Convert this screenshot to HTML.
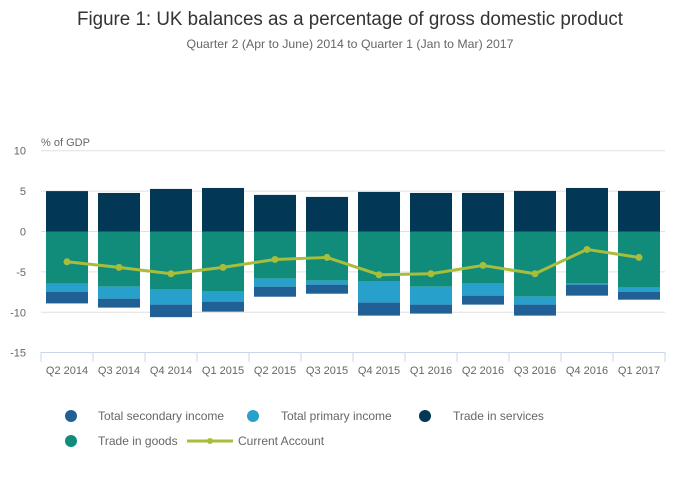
<!DOCTYPE html>
<html><head><meta charset="utf-8"><style>
html,body{margin:0;padding:0;background:#fff;}
svg{display:block;font-family:"Liberation Sans",sans-serif;}
</style></head><body>
<svg id="chart" width="700" height="502" viewBox="0 0 700 502">
<text x="350" y="25" text-anchor="middle" font-size="19" fill="#333" textLength="546" lengthAdjust="spacingAndGlyphs">Figure 1: UK balances as a percentage of gross domestic product</text>
<text x="350" y="48" text-anchor="middle" font-size="12" fill="#666" textLength="327" lengthAdjust="spacingAndGlyphs">Quarter 2 (Apr to June) 2014 to Quarter 1 (Jan to Mar) 2017</text>
<text x="41" y="146" font-size="11" fill="#666">% of GDP</text>
<g id="grid"></g><g id="bars"></g><g id="line"></g><g id="axis"></g>
<g id="legend">
<circle cx="71" cy="416" r="6" fill="#206095"/>
<text x="98" y="420" font-size="12" fill="#666">Total secondary income</text>
<circle cx="253" cy="416" r="6" fill="#27A0CC"/>
<text x="281" y="420" font-size="12" fill="#666">Total primary income</text>
<circle cx="425" cy="416" r="6" fill="#023756"/>
<text x="453" y="420" font-size="12" fill="#666">Trade in services</text>
<circle cx="71" cy="441" r="6" fill="#118C7B"/>
<text x="98" y="445" font-size="12" fill="#666">Trade in goods</text>
<line x1="187" y1="441" x2="233" y2="441" stroke="#A8BD3A" stroke-width="3"/>
<circle cx="210" cy="441" r="3" fill="#A8BD3A"/>
<text x="238" y="445" font-size="12" fill="#666">Current Account</text>
</g>
</svg>
<script>
const categories=["Q2 2014","Q3 2014","Q4 2014","Q1 2015","Q2 2015","Q3 2015","Q4 2015","Q1 2016","Q2 2016","Q3 2016","Q4 2016","Q1 2017"];
const services=[5.0,4.77,5.27,5.39,4.53,4.28,4.9,4.77,4.77,5.02,5.39,5.02];
const goods=[-6.45,-6.83,-7.2,-7.45,-5.84,-6.09,-6.21,-6.83,-6.46,-8.07,-6.46,-6.95];
const primary=[-1.0,-1.48,-1.85,-1.23,-0.99,-0.49,-2.59,-2.22,-1.48,-0.98,-0.12,-0.5];
const secondary=[-1.45,-1.11,-1.55,-1.24,-1.24,-1.12,-1.61,-1.11,-1.11,-1.36,-1.36,-0.99];
const currentAccount=[-3.75,-4.44,-5.23,-4.44,-3.46,-3.21,-5.35,-5.23,-4.2,-5.23,-2.22,-3.21];
const yTicks=[10,5,0,-5,-10,-15];

const NS="http://www.w3.org/2000/svg";
const x0=41,x1=665,bw=42;
const step=(x1-x0)/categories.length;
function y(v){return 231.5-v*8.08;}
function xc(i){return x0+step*(i+0.5);}
function mk(tag,attrs,parent){const e=document.createElementNS(NS,tag);for(const k in attrs)e.setAttribute(k,attrs[k]);parent.appendChild(e);return e;}
const grid=document.getElementById('grid'),bars=document.getElementById('bars'),line=document.getElementById('line'),axis=document.getElementById('axis');
yTicks.forEach(t=>{
  if(t!==-15){const g=mk('line',{x1:x0,x2:x1,y1:y(t),y2:y(t),stroke:'#e0e0e0','stroke-width':1},grid);
  
  }
  const l=mk('text',{x:26,y:y(t)+4,'text-anchor':'end','font-size':11,fill:'#666'},axis);
  l.textContent=t;
  
  
});
const ax=mk('line',{x1:x0,x2:x1,y1:352.5,y2:352.5,stroke:'#ccd6eb','stroke-width':1},axis);


for(let i=0;i<=categories.length;i++){
  const tk=mk('line',{x1:x0+step*i,x2:x0+step*i,y1:352,y2:362,stroke:'#ccd6eb'},axis);
  
  
}
function seg(i,a,b,color,name){
  const top=Math.min(y(a),y(b)),h=Math.abs(y(a)-y(b));
  const r=mk('rect',{x:xc(i)-bw/2,y:top,width:bw,height:h,fill:color},bars);
  
  
}
categories.forEach((c,i)=>{
  seg(i,0,services[i],'#023756','bar-services');
  let b=goods[i];seg(i,0,b,'#118C7B','bar-goods');
  seg(i,b,b+primary[i],'#27A0CC','bar-primary');b+=primary[i];
  seg(i,b,b+secondary[i],'#206095','bar-secondary');
  const t=mk('text',{x:xc(i),y:374,'text-anchor':'middle','font-size':11,fill:'#666'},axis);
  t.textContent=c;
  
  
});
const pts=currentAccount.map((v,i)=>xc(i)+','+y(v)).join(' ');
const pl=mk('polyline',{points:pts,fill:'none',stroke:'#A8BD3A','stroke-width':3,'stroke-linejoin':'round'},line);


currentAccount.forEach((v,i)=>{
  const p=mk('circle',{cx:xc(i),cy:y(v),r:3.5,fill:'#A8BD3A'},line);
  
  
});
</script>
</body></html>
